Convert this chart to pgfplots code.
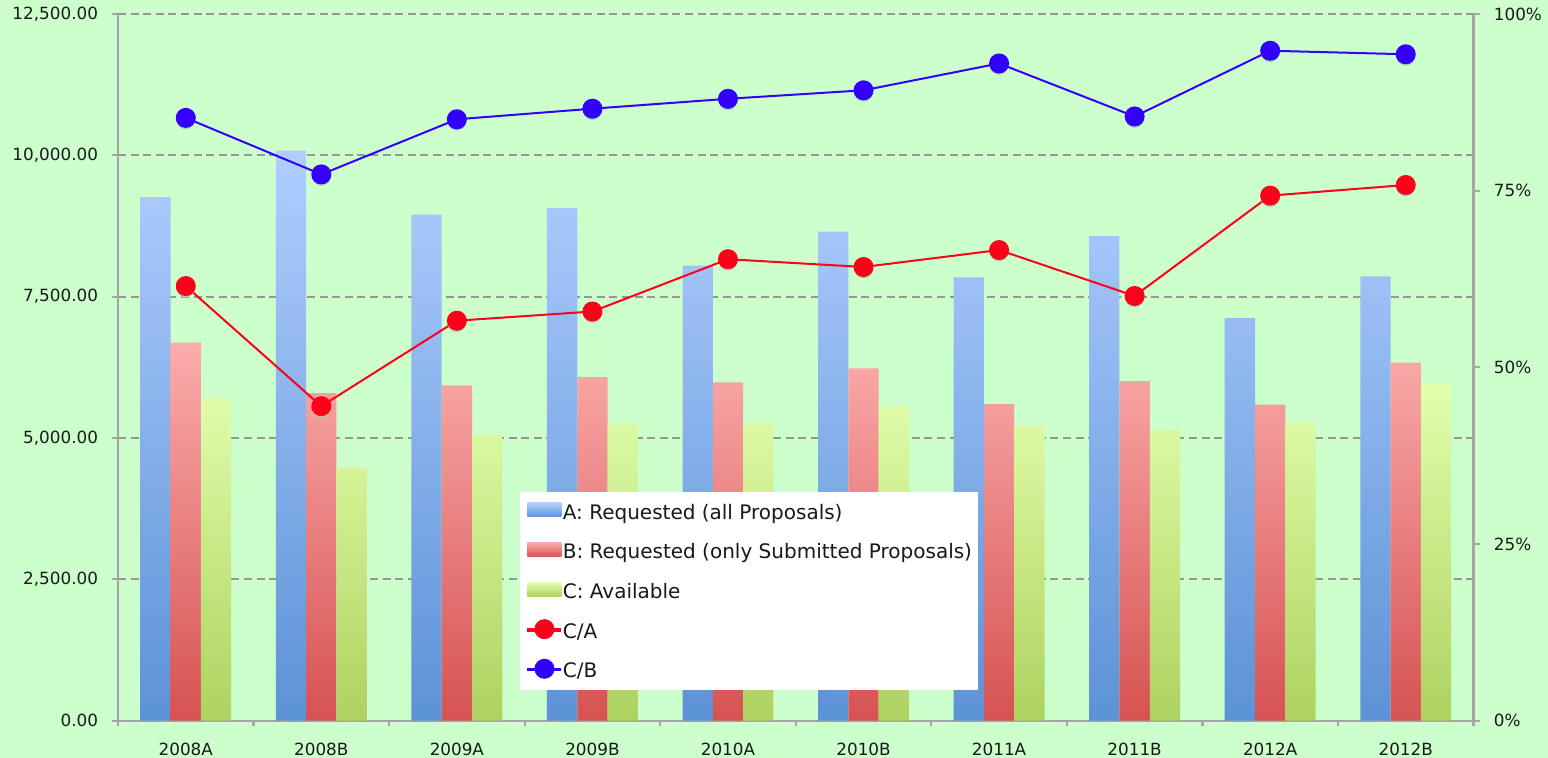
\documentclass[border=0pt]{standalone}
\usepackage{pgfplots}
\pgfplotsset{compat=1.18}
\usepackage{pgfplotstable}
\usepackage{fontspec}
\setmainfont{DejaVu Sans}

\definecolor{bg}{RGB}{204,255,204}
\definecolor{gridgray}{RGB}{150,150,150}
\definecolor{axisgray}{RGB}{165,165,165}
\definecolor{Atop}{RGB}{176,206,255}
\definecolor{Abot}{RGB}{92,146,214}
\definecolor{Btop}{RGB}{251,172,172}
\definecolor{Bbot}{RGB}{214,82,82}
\definecolor{Ctop}{RGB}{226,255,172}
\definecolor{Cbot}{RGB}{174,210,96}
\definecolor{lineA}{RGB}{255,0,25}
\definecolor{lineB}{RGB}{51,0,255}
\definecolor{txt}{RGB}{25,25,25}
\definecolor{markshade}{RGB}{172,212,172}

% observing hours per semester: A requested (all), B requested (submitted), C available
\pgfplotstableread{
idx  A      B     C     CA     CB
0    9260   6688  5710  0.615  0.853
1    10085  5793  4477  0.445  0.773
2    8952   5931  5058  0.566  0.851
3    9069   6083  5253  0.579  0.866
4    8051   5984  5271  0.653  0.880
5    8652   6231  5560  0.642  0.892
6    7840   5601  5212  0.666  0.930
7    8569   6007  5142  0.601  0.855
8    7120   5590  5283  0.743  0.948
9    7857   6332  5961  0.758  0.943
}\semesters

\pgfplotsset{
  % legend swatches: drawn as overlay so that only the text sets the row height
  barleg/.style={legend image code/.code={%
    \path (0pt,0pt) -- (17pt,0pt);
    \path[overlay, ##1, draw=none] (0pt,-2.5pt) rectangle (17pt,4.5pt);}},
  common/.style={
    at={(0,0)}, anchor=south west,
    scale only axis, width=677.75pt, height=353.35pt,
    xmin=-0.5, xmax=9.5,
    axis line style={axisgray, line width=1.1pt},
    tick align=outside,
    tick label style={font=\fontsize{8.4}{10}\selectfont, text=txt},
  },
}

\begin{document}
\begin{tikzpicture}
\fill[bg] (-59pt,-18.65pt) rectangle (715pt,360.35pt);
\useasboundingbox (-59pt,-18.65pt) rectangle (715pt,360.35pt);

% hours (left axis)
\begin{axis}[
  common,
  ymin=0, ymax=12500,
  axis x line*=bottom, axis y line*=left,
  ybar=0pt, bar width=0.2235,
  xtick={0,...,9},
  xticklabels={2008A,2008B,2009A,2009B,2010A,2010B,2011A,2011B,2012A,2012B},
  minor xtick={-0.5,0.5,...,9.5},
  major x tick style={draw=none},
  minor x tick style={axisgray, line width=1.1pt},
  minor tick length=2.5pt,
  ytick={0,2500,...,12500},
  yticklabels={0.00,{2,500.00},{5,000.00},{7,500.00},{10,000.00},{12,500.00}},
  ytick style={axisgray, line width=1.1pt},
  major tick length=2.8pt,
  ymajorgrids,
  grid style={gridgray, line width=1pt, dash pattern=on 4pt off 2.3pt},
  xticklabel style={anchor=north, inner sep=0pt, yshift=-8pt},
  yticklabel style={anchor=east, inner sep=0pt, xshift=-7pt},
]
\addplot[draw=none, top color=Atop, bottom color=Abot] table[x=idx, y=A] {\semesters};
\addplot[draw=none, top color=Btop, bottom color=Bbot] table[x=idx, y=B] {\semesters};
\addplot[draw=none, top color=Ctop, bottom color=Cbot] table[x=idx, y=C] {\semesters};
\end{axis}

% ratios (right axis)
\begin{axis}[
  common,
  ymin=0, ymax=1,
  axis x line=none, axis y line*=right,
  ytick={0,0.25,0.5,0.75,1},
  yticklabels={0\%,25\%,50\%,75\%,100\%},
  ytick style={axisgray, line width=1.1pt},
  major tick length=3pt,
  yticklabel style={anchor=west, inner sep=0pt, xshift=7pt},
  legend image code/.code={%
    \path (0pt,0pt) -- (17pt,0pt);
    \draw[overlay, mark repeat=2, mark phase=2, #1] plot coordinates {(0pt,0.8pt) (8.5pt,0.8pt) (17pt,0.8pt)};},
  legend style={
    at={(0.2966,0.3239)}, anchor=north west,
    fill=white, draw=none,
    inner xsep=3pt, inner ysep=5.95pt,
    row sep=11.9pt, column sep=0pt,
    cells={anchor=west},
    nodes={inner xsep=0.2pt, inner ysep=0pt, text height=7.6pt, text depth=0.3pt},
    font=\fontsize{10}{12}\selectfont, text=txt,
  },
  legend cell align=left,
]
\addlegendimage{barleg, top color=Atop, bottom color=Abot}
\addlegendentry{A: Requested (all Proposals)}
\addlegendimage{barleg, top color=Btop, bottom color=Bbot}
\addlegendentry{B: Requested (only Submitted Proposals)}
\addlegendimage{barleg, top color=Ctop, bottom color=Cbot}
\addlegendentry{C: Available}
% faint shadows under the markers
\addplot[forget plot, only marks, color=markshade, mark=*, mark size=4.4pt, yshift=-1.1pt]
  table[x=idx, y=CA] {\semesters};
\addplot[forget plot, only marks, color=markshade, mark=*, mark size=4.4pt, yshift=-1.1pt]
  table[x=idx, y=CB] {\semesters};
\addplot[lineA, line width=1pt, mark=*, mark size=4.5pt, mark options={draw=none, fill=lineA}]
  table[x=idx, y=CA] {\semesters};
\addlegendentry{C/A}
\addplot[lineB, line width=1pt, mark=*, mark size=4.5pt, mark options={draw=none, fill=lineB}]
  table[x=idx, y=CB] {\semesters};
\addlegendentry{C/B}
\end{axis}
\end{tikzpicture}
\end{document}
